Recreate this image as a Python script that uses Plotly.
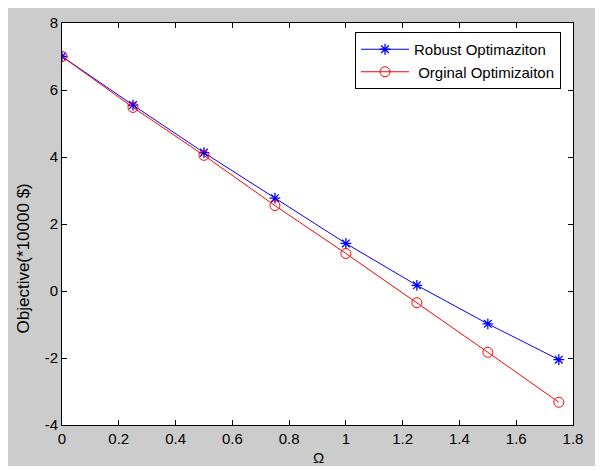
import plotly.graph_objects as go

omega = [0, 0.25, 0.5, 0.75, 1.0, 1.25, 1.5, 1.75]
robust = [7.0, 5.55, 4.13, 2.77, 1.42, 0.17, -0.98, -2.05]
original = [7.0, 5.48, 4.05, 2.55, 1.12, -0.35, -1.83, -3.32]
x_ticks = [0, 0.2, 0.4, 0.6, 0.8, 1, 1.2, 1.4, 1.6, 1.8]
x_tick_labels = ["0", "0.2", "0.4", "0.6", "0.8", "1", "1.2", "1.4", "1.6", "1.8"]
y_ticks = [-4, -2, 0, 2, 4, 6, 8]
y_tick_labels = ["-4", "-2", "0", "2", "4", "6", "8"]

FONT = "Liberation Sans, Arial, sans-serif"
# figure is placed at (8, 8) by the page's default body margin
OFF = 8
W, H = 595, 458
L, R, T, B = 54, 30, 15, 41
PW, PH = W - L - R, H - T - B


def px(x):
    # reference-window pixel x -> paper coordinate
    return (x - OFF - L) / PW


def py(y):
    # reference-window pixel y -> paper coordinate
    return (H - B - (y - OFF)) / PH


fig = go.Figure()
fig.add_trace(go.Scatter(
    x=omega, y=robust, mode="lines+markers", name="Robust Optimaziton",
    legendgroup="a",
    line=dict(color="#0000ff", width=1),
    marker=dict(symbol="asterisk-open", size=9, color="#0000ff", line=dict(color="#0000ff", width=1.3)),
))
fig.add_trace(go.Scatter(
    x=omega, y=original, mode="lines+markers", name=" Orginal Optimizaiton",
    legendgroup="b",
    line=dict(color="#ff0000", width=1),
    marker=dict(symbol="circle-open", size=10, color="#ff0000", line=dict(color="#ff0000", width=1)),
))

axis_common = dict(
    showline=True, linecolor="black", linewidth=1, mirror="allticks",
    ticks="inside", ticklen=5, tickcolor="black", tickwidth=1,
    showgrid=False, zeroline=False, automargin=False,
    tickfont=dict(family=FONT, size=15, color="black"),
)

fig.update_layout(
    width=W, height=H,
    margin=dict(l=L, r=R, t=T, b=B, pad=0),
    paper_bgcolor="#cccccc",
    plot_bgcolor="white",
    font=dict(family=FONT, size=15, color="black"),
    xaxis=dict(range=[0, 1.8], tickvals=x_ticks, ticktext=x_tick_labels, **axis_common),
    yaxis=dict(range=[-4, 8], tickvals=y_ticks, ticktext=y_tick_labels, **axis_common),
    legend=dict(x=px(355), y=py(32), xanchor="left", yanchor="top",
                bgcolor="white", bordercolor="black", borderwidth=1,
                font=dict(family=FONT, size=15, color="black"),
                traceorder="grouped", tracegroupgap=0, itemwidth=48),
    showlegend=True,
    annotations=[
        dict(text="Ω", xref="paper", yref="paper", x=px(318), y=py(457),
             xanchor="center", yanchor="middle", showarrow=False,
             font=dict(family=FONT, size=15, color="black")),
        dict(text="Objective(*10000 $)", xref="paper", yref="paper", x=px(22.5), y=py(259),
             xanchor="center", yanchor="middle", showarrow=False, textangle=-90,
             font=dict(family=FONT, size=17, color="black")),
    ],
)

fig.write_html("out.html")
